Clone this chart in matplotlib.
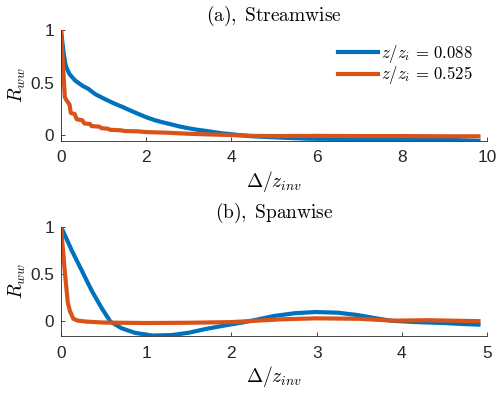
import matplotlib
matplotlib.use("Agg")
import matplotlib.pyplot as plt

plt.rcParams['mathtext.fontset'] = 'cm'
plt.rcParams['font.family'] = ['Liberation Sans', 'DejaVu Sans']

# ---- data: (a) Streamwise ----
xa_blue = [0, 0.05, 0.1, 0.13, 0.2, 0.33, 0.5, 0.64, 0.8, 1.04, 1.25, 1.43, 1.62,
           1.82, 2.0, 2.21, 2.4, 2.6, 2.8, 3.0, 3.2, 3.39, 3.6, 3.78, 4.0, 4.17,
           4.48, 5.0, 5.8, 6.5, 7.5, 8.5, 9.2, 9.8]
ya_blue = [1.0, 0.82, 0.68, 0.64, 0.58, 0.52, 0.47, 0.44, 0.39, 0.34, 0.30, 0.27,
           0.235, 0.2, 0.17, 0.14, 0.12, 0.10, 0.08, 0.064, 0.05, 0.04, 0.027, 0.016,
           0.008, 0.0, -0.012, -0.022, -0.035, -0.037, -0.038, -0.04, -0.047, -0.055]
xa_orange = [0, 0.09, 0.13, 0.2, 0.23, 0.32, 0.37, 0.5, 0.55, 0.68, 0.72, 0.9, 0.95,
             1.1, 1.15, 1.4, 1.5, 1.8, 2.0, 2.5, 3.0, 3.5, 4.0, 4.5, 5.0, 6.0, 7.0,
             8.0, 9.0, 9.8]
ya_orange = [1.0, 0.36, 0.33, 0.29, 0.21, 0.2, 0.15, 0.14, 0.11, 0.105, 0.085, 0.08,
             0.065, 0.06, 0.05, 0.045, 0.038, 0.035, 0.028, 0.022, 0.012, 0.005, 0.0,
             -0.008, -0.01, -0.008, -0.01, -0.01, -0.012, -0.012]

# ---- data: (b) Spanwise ----
xb_blue = [0, 0.06, 0.125, 0.24, 0.36, 0.48, 0.58, 0.71, 0.87, 1.07, 1.3, 1.5, 1.69,
           1.89, 2.09, 2.24, 2.5, 2.75, 2.99, 3.25, 3.48, 3.7, 3.87, 4.1, 4.26, 4.5,
           4.7, 4.9]
yb_blue = [1.0, 0.88, 0.75, 0.54, 0.32, 0.13, -0.01, -0.08, -0.13, -0.158, -0.153,
           -0.128, -0.09, -0.056, -0.025, 0.0, 0.05, 0.08, 0.092, 0.085, 0.06, 0.025,
           0.0, -0.012, -0.018, -0.025, -0.035, -0.042]
xb_orange = [0, 0.047, 0.08, 0.106, 0.145, 0.2, 0.3, 0.5, 1.0, 1.5, 2.0, 2.3, 2.6,
             3.0, 3.5, 3.9, 4.3, 4.6, 4.9]
yb_orange = [1.0, 0.5, 0.19, 0.1, 0.02, 0.0, -0.01, -0.02, -0.025, -0.022, -0.015,
             0.0, 0.015, 0.025, 0.02, 0.0, 0.005, 0.0, -0.005]

labels = [r'$z/z_i\,=\,0.088$', r'$z/z_i\,=\,0.525$']
titles = [r'$\mathrm{(a),\;Streamwise}$', r'$\mathrm{(b),\;Spanwise}$']
xticks_a = [0, 2, 4, 6, 8, 10]
xticks_b = [0, 1, 2, 3, 4, 5]
yticks = [0, 0.5, 1]

BLUE = '#0072BD'
ORANGE = '#D95319'
AX = '#262626'

W, H = 500, 394
fig = plt.figure(figsize=(W / 100, H / 100), dpi=100)

def px_axes(l, r, t, b):
    return fig.add_axes([l / W, (H - b) / H, (r - l) / W, (b - t) / H])

ax1 = px_axes(61, 487, 30, 140.7)
ax2 = px_axes(61, 487, 226.7, 336)

def style(ax, xlim, ylim, xticks, title):
    ax.set_xlim(*xlim)
    ax.set_ylim(*ylim)
    ax.set_xticks(xticks)
    ax.set_xticklabels([str(t) for t in xticks])
    ax.set_yticks(yticks)
    ax.set_yticklabels(['0', '0.5', '1'])
    for s in ['top', 'right']:
        ax.spines[s].set_visible(False)
    for s in ['left', 'bottom']:
        ax.spines[s].set_color(AX)
        ax.spines[s].set_linewidth(0.6)
    ax.tick_params(direction='in', length=3, width=0.6, color=AX,
                   labelcolor=AX, labelsize=12.4)
    ax.tick_params(axis='x', pad=7)
    ax.tick_params(axis='y', pad=5)
    ax.set_ylabel(r'$R_{ww}$', fontsize=14)
    ax.yaxis.label.set_va('center')
    ax.yaxis.set_label_coords(-0.103, 0.5)
    ax.set_xlabel(r'$\Delta/z_{inv}$', fontsize=14)
    ax.text(0.5, 1.125, title, transform=ax.transAxes, ha='center', va='center',
            fontsize=14)

ax1.plot(xa_blue, ya_blue, color=BLUE, lw=3, label=labels[0])
ax1.plot(xa_orange, ya_orange, color=ORANGE, lw=3, label=labels[1])
style(ax1, (0, 10), (-0.054, 1), xticks_a, titles[0])
ax1.xaxis.label.set_va('center')
ax1.xaxis.set_label_coords(0.5, -0.37)

ax2.plot(xb_blue, yb_blue, color=BLUE, lw=3)
ax2.plot(xb_orange, yb_orange, color=ORANGE, lw=3)
style(ax2, (0, 5), (-0.163, 1), xticks_b, titles[1])
ax2.xaxis.label.set_va('center')
ax2.xaxis.set_label_coords(0.5, -0.366)

ax1.legend(loc='upper right', bbox_to_anchor=(0.982, 0.94), frameon=False,
           fontsize=12, handlelength=2.4, handletextpad=0.15, labelspacing=-0.05,
           borderaxespad=0)

fig.savefig('out.png', dpi=100)
